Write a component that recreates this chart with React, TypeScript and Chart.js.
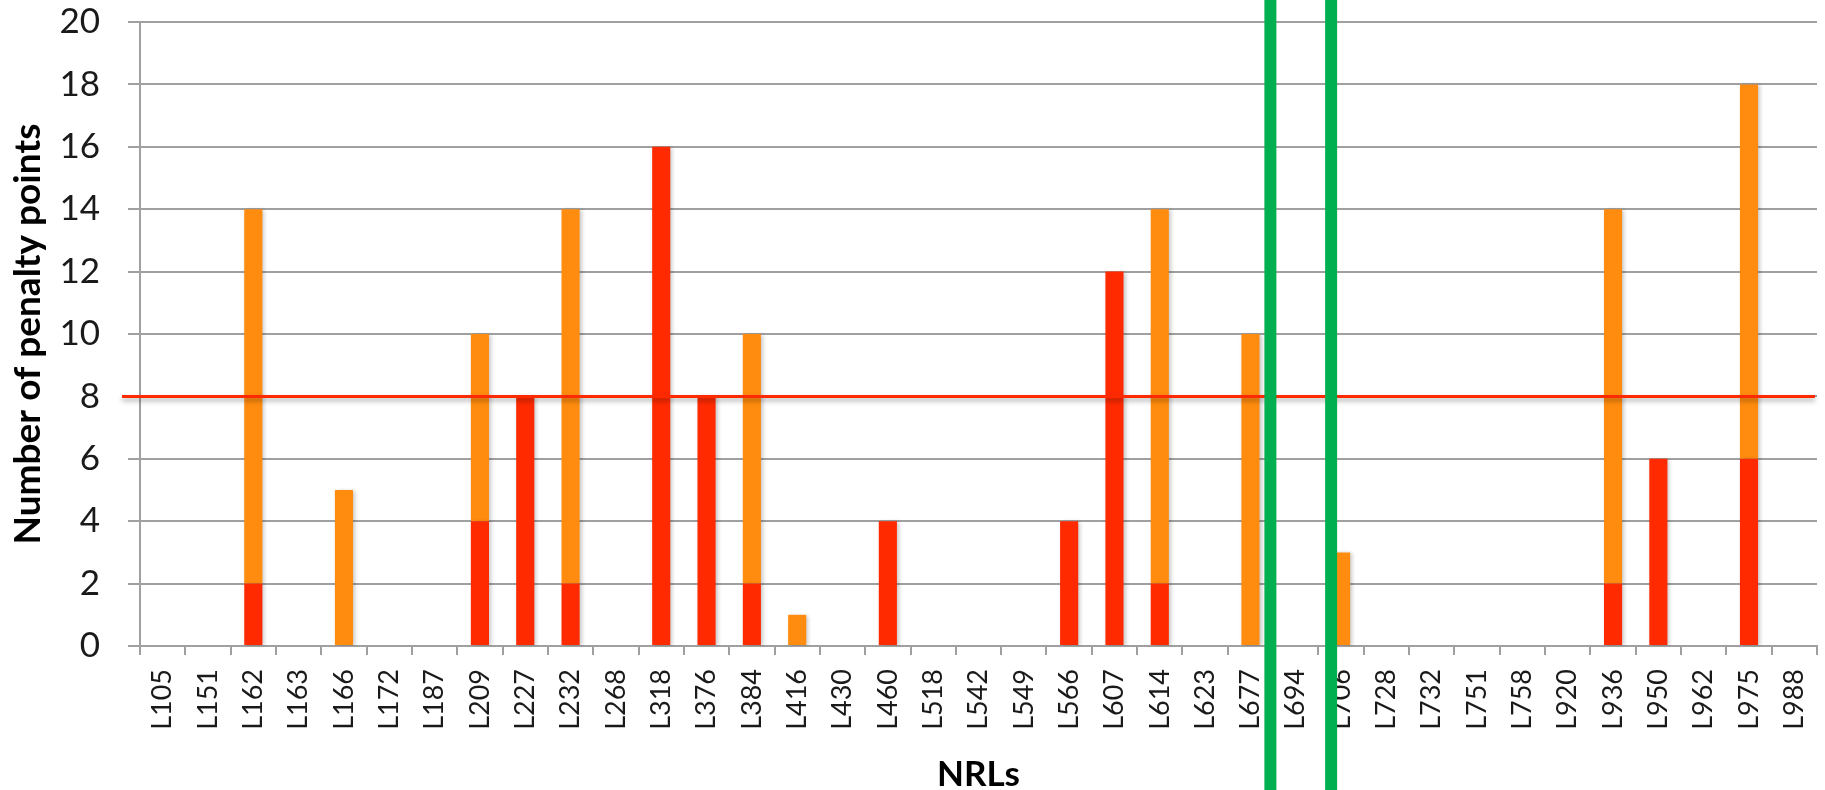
import React, { useEffect, useRef } from "react";
import { Chart, registerables } from "chart.js";

Chart.register(...registerables);

const categories = [
  "L105", "L151", "L162", "L163", "L166", "L172", "L187", "L209", "L227", "L232",
  "L268", "L318", "L376", "L384", "L416", "L430", "L460", "L518", "L542", "L549",
  "L566", "L607", "L614", "L623", "L677", "L694", "L706", "L728", "L732", "L751",
  "L758", "L920", "L936", "L950", "L962", "L975", "L988",
];

const redValues = [
  0, 0, 2, 0, 0, 0, 0, 4, 8, 2,
  0, 16, 8, 2, 0, 0, 4, 0, 0, 0,
  4, 12, 2, 0, 0, 0, 0, 0, 0, 0,
  0, 0, 2, 6, 0, 6, 0,
];

const orangeValues = [
  0, 0, 12, 0, 5, 0, 0, 6, 0, 12,
  0, 0, 0, 8, 1, 0, 0, 0, 0, 0,
  0, 0, 12, 0, 10, 0, 3, 0, 0, 0,
  0, 0, 12, 0, 0, 12, 0,
];

const yTicks = [0, 2, 4, 6, 8, 10, 12, 14, 16, 18, 20];
const thresholdValue = [8];
// positions of the green markers, in category-index units
const greenMarkers = [24.44, 25.78];

const FONT = "Lato, 'Open Sans', sans-serif";

const overlayPlugin = {
  id: "overlay",
  beforeDatasetsDraw(chart: any) {
    const ctx = chart.ctx;
    ctx.save();
    ctx.shadowColor = "rgba(0,0,0,0.22)";
    ctx.shadowBlur = 4;
    ctx.shadowOffsetX = 2;
    ctx.shadowOffsetY = 1;
  },
  afterDatasetsDraw(chart: any) {
    const ctx = chart.ctx;
    ctx.restore();
    const x = chart.scales.x;
    const y = chart.scales.y;
    const area = chart.chartArea;
    thresholdValue.forEach((v) => {
      const py = y.getPixelForValue(v);
      ctx.save();
      ctx.shadowColor = "rgba(0,0,0,0.35)";
      ctx.shadowBlur = 5;
      ctx.shadowOffsetY = 3;
      ctx.strokeStyle = "#FF2A00";
      ctx.lineWidth = 3;
      ctx.beginPath();
      ctx.moveTo(area.left - 18, py);
      ctx.lineTo(area.right - 2, py);
      ctx.stroke();
      ctx.restore();
    });
    greenMarkers.forEach((v) => {
      const px = x.getPixelForValue(v);
      ctx.save();
      ctx.fillStyle = "#00B050";
      ctx.fillRect(px - 6, 0, 12, chart.height);
      ctx.restore();
    });
  },
};

export default function App() {
  const canvasRef = useRef<HTMLCanvasElement | null>(null);

  useEffect(() => {
    if (!canvasRef.current) return;
    const chart = new Chart(canvasRef.current, {
      type: "bar",
      data: {
        labels: categories,
        datasets: [
          {
            label: "Red",
            data: redValues,
            backgroundColor: "#FF2A00",
            barPercentage: 0.4,
            categoryPercentage: 1,
          },
          {
            label: "Orange",
            data: orangeValues,
            backgroundColor: "#FF8C0F",
            barPercentage: 0.4,
            categoryPercentage: 1,
          },
        ],
      },
      options: {
        animation: false,
        responsive: true,
        maintainAspectRatio: false,
        layout: { padding: { top: 22, right: 8, left: 0, bottom: 0 } },
        plugins: {
          legend: { display: false },
          tooltip: { enabled: false },
        },
        scales: {
          x: {
            stacked: true,
            grid: {
              drawOnChartArea: false,
              drawTicks: true,
              tickLength: 9,
              color: "#A0A0A0",
              lineWidth: 2,
            },
            border: { color: "#A0A0A0", width: 2 },
            ticks: {
              autoSkip: false,
              maxRotation: 90,
              minRotation: 90,
              color: "#1a1a1a",
              font: { family: FONT, size: 27 },
              padding: 14,
            },
            title: {
              display: true,
              text: "NRLs",
              color: "#000",
              font: { family: FONT, size: 35, weight: "bold", lineHeight: 0.8 },
              padding: { top: 0, bottom: 1 },
            },
            afterFit(scale: any) {
              scale.height = 144;
              scale.paddingLeft = 0;
              scale.paddingRight = 0;
            },
          },
          y: {
            stacked: true,
            min: 0,
            max: 20,
            afterBuildTicks(scale: any) {
              scale.ticks = yTicks.map((v) => ({ value: v }));
            },
            grid: {
              color: "#A0A0A0",
              lineWidth: 2,
              tickLength: 12,
            },
            border: { color: "#A0A0A0", width: 2 },
            ticks: {
              color: "#1a1a1a",
              font: { family: FONT, size: 35 },
              padding: 28,
            },
            title: {
              display: true,
              text: "Number of penalty points",
              color: "#000",
              font: { family: FONT, size: 37, weight: "bold" },
              padding: { top: 6, bottom: 0 },
            },
            afterFit(scale: any) {
              scale.width = 140;
              scale.paddingTop = 0;
              scale.paddingBottom = 0;
            },
          },
        },
      },
      plugins: [overlayPlugin],
    });
    return () => chart.destroy();
  }, []);

  return (
    <div style={{ position: "fixed", left: 0, top: 0, width: 1825, height: 790, background: "#fff" }}>
      <canvas ref={canvasRef} />
    </div>
  );
}
